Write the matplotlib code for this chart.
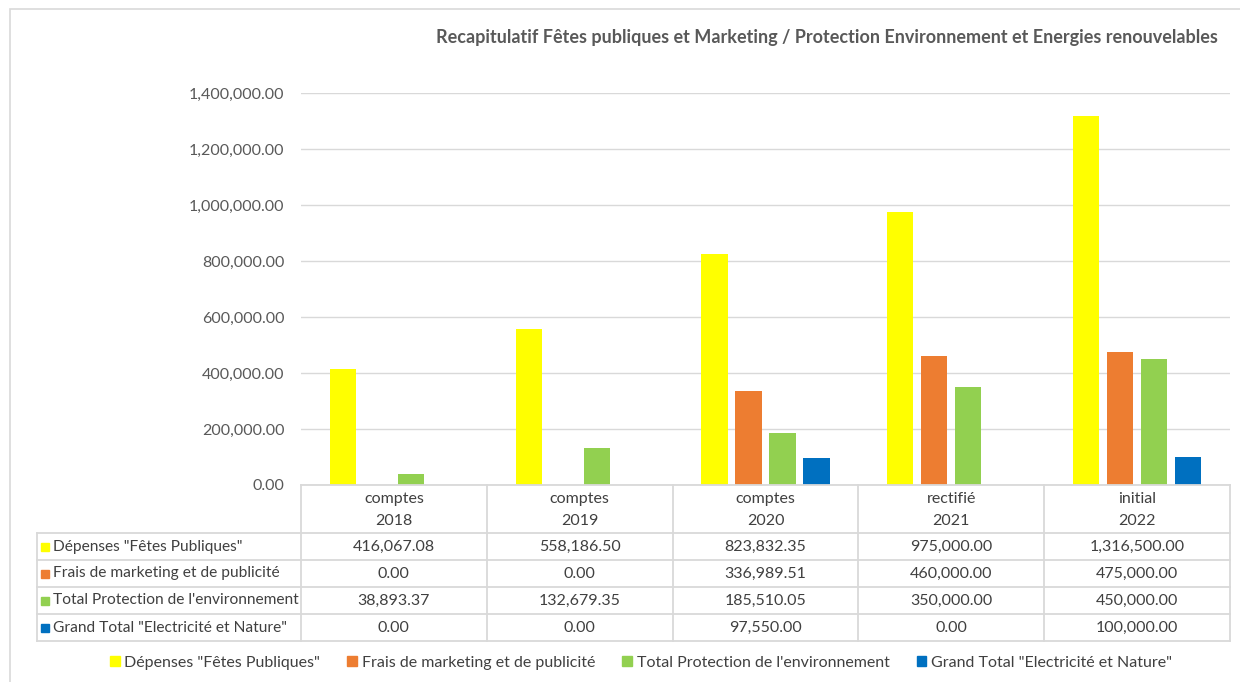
import matplotlib
matplotlib.use("Agg")
import matplotlib.pyplot as plt
from matplotlib.lines import Line2D
from matplotlib.patches import Rectangle
import numpy as np

plt.rcParams['font.family'] = ['Lato', 'DejaVu Sans']

title = "Recapitulatif Fêtes publiques et Marketing / Protection Environnement et Energies renouvelables"
categories = ["comptes\n2018", "comptes\n2019", "comptes\n2020", "rectifié\n2021", "initial\n2022"]
series_names = ['Dépenses "Fêtes Publiques"', "Frais de marketing et de publicité",
                "Total Protection de l'environnement", 'Grand Total "Electricité et Nature"']
fetes = [416067.08, 558186.50, 823832.35, 975000.00, 1316500.00]
marketing = [0.00, 0.00, 336989.51, 460000.00, 475000.00]
environnement = [38893.37, 132679.35, 185510.05, 350000.00, 450000.00]
electricite = [0.00, 0.00, 97550.00, 0.00, 100000.00]
yticks = [0, 200000, 400000, 600000, 800000, 1000000, 1200000, 1400000]

series = [fetes, marketing, environnement, electricite]
colors = ["#FFFF00", "#ED7D31", "#92D050", "#0070C0"]

W, H = 1240, 682
fig = plt.figure(figsize=(W / 100, H / 100), dpi=100)


def fx(px):
    return px / W


def fy(py):
    return 1 - py / H


grid_c = "#D9D9D9"
text_c = "#404040"

# outer chart border
fig.add_artist(Rectangle((fx(10), fy(700)), fx(1250) - fx(10), fy(9) - fy(700),
                         fill=False, edgecolor=grid_c, lw=1.2, transform=fig.transFigure))

fig.text(fx(827), fy(37), title, ha="center", va="center", fontsize=13,
         fontweight="bold", color="#595959")

# plot area
x0, x1 = 301, 1230
ytop, ybot = 93, 485
ax = fig.add_axes([fx(x0), fy(ybot), fx(x1) - fx(x0), fy(ytop) - fy(ybot)])
n = len(categories)
x = np.arange(n)
width = 0.14
pitch = 0.183
for i, (vals, c) in enumerate(zip(series, colors)):
    ax.bar(x + (i - 1.5) * pitch, vals, width, color=c, zorder=3)
ax.set_xlim(-0.5, n - 0.5)
ax.set_ylim(0, 1400000)
ax.set_yticks(yticks)
ax.set_yticklabels([f"{v:,.2f}" for v in yticks], fontsize=11.5, color="#595959")
ax.tick_params(axis="y", length=0, pad=12)
ax.set_xticks([])
ax.grid(axis="y", color=grid_c, lw=1, zorder=0)
for s in ax.spines.values():
    s.set_visible(False)

# data table
col_edges = np.linspace(x0, x1, n + 1)
row_edges = [485, 533, 560, 587, 614, 641]
lab_left = 37
tl = dict(color=grid_c, lw=1.3, transform=fig.transFigure)
fig.add_artist(Line2D([fx(x0), fx(x1)], [fy(row_edges[0])] * 2, **tl))
for r in row_edges[1:]:
    fig.add_artist(Line2D([fx(lab_left), fx(x1)], [fy(r)] * 2, **tl))
for cx in col_edges:
    fig.add_artist(Line2D([fx(cx)] * 2, [fy(row_edges[0]), fy(row_edges[-1])], **tl))
fig.add_artist(Line2D([fx(lab_left)] * 2, [fy(row_edges[1]), fy(row_edges[-1])], **tl))

for j, cat in enumerate(categories):
    cx = (col_edges[j] + col_edges[j + 1]) / 2
    fig.text(fx(cx), fy((row_edges[0] + row_edges[1]) / 2 + 1), cat, ha="center", va="center",
             fontsize=11.5, color=text_c, linespacing=1.75)

for i, (name, vals, c) in enumerate(zip(series_names, series, colors)):
    ym = (row_edges[i + 1] + row_edges[i + 2]) / 2
    fig.add_artist(Rectangle((fx(41), fy(ym + 4)), fx(8), fy(ym - 4) - fy(ym + 4),
                             color=c, transform=fig.transFigure))
    fig.text(fx(53), fy(ym), name, ha="left", va="center", fontsize=11.2, color=text_c)
    for j, v in enumerate(vals):
        cx = (col_edges[j] + col_edges[j + 1]) / 2
        fig.text(fx(cx), fy(ym), f"{v:,.2f}", ha="center", va="center", fontsize=11.5, color=text_c)

# legend
handles = [Rectangle((0, 0), 1, 1, color=c) for c in colors]
leg = fig.legend(handles, series_names, loc="center", bbox_to_anchor=(fx(641), fy(663)),
                 ncol=4, frameon=False, fontsize=11.5, handlelength=0.6, handleheight=0.6,
                 handletextpad=0.3, columnspacing=1.7)
for t in leg.get_texts():
    t.set_color(text_c)

fig.savefig("out.png", dpi=100, facecolor="white")
